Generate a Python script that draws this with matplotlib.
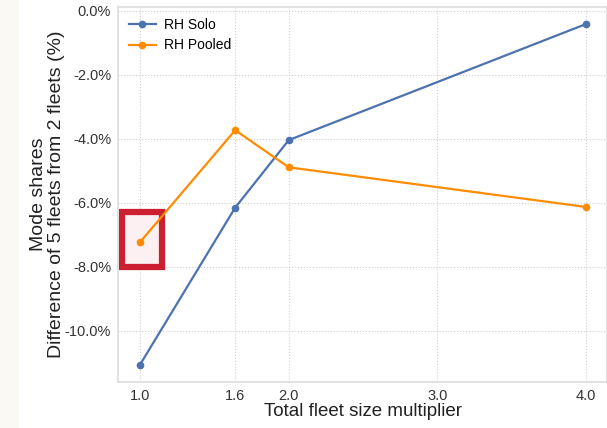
import matplotlib
matplotlib.use("Agg")
from matplotlib import pyplot as plt
from matplotlib.patches import Rectangle
from matplotlib.ticker import FuncFormatter

# Data
fleet_multiplier = [1.0, 1.64, 2.0, 4.0]
x_tick_values = [1.0, 1.64, 2.0, 3.0, 4.0]
x_tick_labels = ["1.0", "1.6", "2.0", "3.0", "4.0"]
rh_solo = [-11.06, -6.15, -4.04, -0.41]
rh_pooled = [-7.23, -3.73, -4.89, -6.13]

plt.rcParams['font.family'] = ['Liberation Sans', 'DejaVu Sans']

fig = plt.figure(figsize=(6.07, 4.28), dpi=100)
fig.patch.set_facecolor("white")
# faint beige strip on the far left
fig.patches.append(Rectangle((0, 0), 19/607., 1, transform=fig.transFigure,
                             facecolor="#faf9f4", edgecolor="none", zorder=0))

ax = fig.add_axes([118/607., 1 - 382/428., 1 - 118/607., (382 - 7)/428.])

ax.plot(fleet_multiplier, rh_solo, color="#4C72B0", marker="o", markersize=4.5,
        linewidth=1.6, label="RH Solo")
ax.plot(fleet_multiplier, rh_pooled, color="#FF8C00", marker="o", markersize=4.5,
        linewidth=1.6, label="RH Pooled")

# highlight box around the 1.0 pooled point
ax.add_patch(Rectangle((0.88, -8.02), 0.265, 1.72, facecolor="#fdf0f2",
                       edgecolor="#cc1f30", linewidth=4.5, zorder=1))

ax.set_xlim(0.852, 4.14)
ax.set_ylim(-11.6, 0.12)
ax.set_xticks(x_tick_values)
ax.set_xticklabels(x_tick_labels)
ax.set_yticks([0, -2, -4, -6, -8, -10])
ax.yaxis.set_major_formatter(FuncFormatter(lambda v, p: "{:.1f}%".format(v)))

ax.grid(True, linestyle=":", color="#d0d0d0", linewidth=0.8)
ax.set_axisbelow(True)
for side in ["left", "bottom", "top", "right"]:
    ax.spines[side].set_color("#dddddd")
    ax.spines[side].set_linewidth(1.2)
ax.tick_params(axis="both", length=0, labelsize=10.5, colors="#333333", pad=5)

ax.set_xlabel("Total fleet size multiplier", fontsize=13.5, color="#222222", labelpad=0)
ax.set_ylabel("Mode shares\nDifference of 5 fleets from 2 fleets (%)", fontsize=14,
              color="#222222", labelpad=0, linespacing=1.05)

ax.legend(loc="upper left", frameon=False, fontsize=10, handlelength=1.9,
          handletextpad=0.6, borderaxespad=0.4, labelspacing=0.45)

fig.savefig("out.png", dpi=100)
